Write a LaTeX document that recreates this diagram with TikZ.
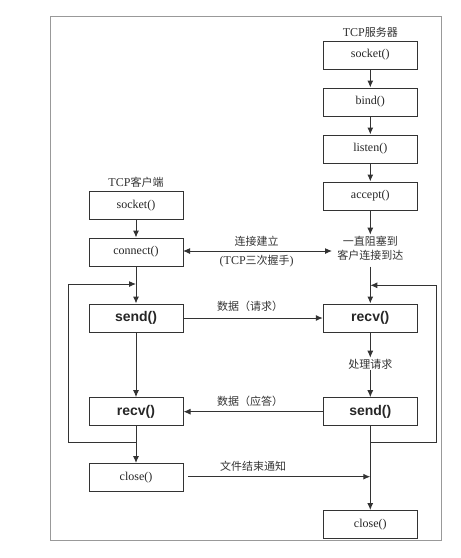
\documentclass[tikz,border=0pt]{standalone}
\usepackage{fontspec}
\setmainfont{Liberation Serif}
\newfontfamily\cjk{Noto Sans CJK SC}
\newfontfamily\arialf{Liberation Sans}
\usetikzlibrary{arrows.meta}
\begin{document}
\begin{tikzpicture}[x=1pt,y=-1pt,
  box/.style={draw=black!80,line width=1pt,minimum width=94pt,minimum height=28pt,inner sep=0pt,font=\fontsize{12}{13}\selectfont,text=black!85},
  bbox/.style={box,font=\arialf\bfseries\fontsize{14}{15}\selectfont},
  lbl/.style={inner sep=1pt,font=\cjk\fontsize{11}{14}\selectfont,text=black!80},
  arr/.style={draw=black!80,line width=1pt,-{Latex[length=7pt,width=6pt]}},
  darr/.style={draw=black!80,line width=1pt,{Latex[length=7pt,width=6pt]}-{Latex[length=7pt,width=6pt]}},
  ln/.style={draw=black!80,line width=1pt}]
\useasboundingbox (0,0) rectangle (461,558);
\draw[black!40,line width=0.8pt] (50,16) rectangle (441.7,540);
% server
\node[lbl] (stitle) at (370.3,32) {\fontspec{Liberation Serif}\fontsize{12}{13}\selectfont TCP\cjk\fontsize{11}{13}\selectfont 服务器};
\node[box] (ssock) at (370.3,55) {socket()};
\node[box] (sbind) at (370.3,102) {bind()};
\node[box] (slist) at (370.3,149) {listen()};
\node[box] (sacc) at (370.3,196) {accept()};
\node[lbl,align=center] (swait) at (370.3,248) {一直阻塞到\\客户连接到达};
\node[bbox] (srecv) at (370.3,318) {recv()};
\node[lbl] (sproc) at (370.3,364) {处理请求};
\node[bbox] (ssend) at (370.3,411.7) {send()};
\node[box] (sclose) at (370.3,524.7) {close()};
% client
\node[lbl] (ctitle) at (136,182) {\fontspec{Liberation Serif}\fontsize{12}{13}\selectfont TCP\cjk\fontsize{11}{13}\selectfont 客户端};
\node[box] (csock) at (136,205.5) {socket()};
\node[box] (cconn) at (136,252) {connect()};
\node[bbox] (csend) at (136,318) {send()};
\node[bbox] (crecv) at (136,411.7) {recv()};
\node[box] (cclose) at (136,477.5) {close()};
% coordinates
\coordinate (cj1) at (136,284);
\coordinate (cj2) at (136,442.7);
\coordinate (cl) at (68.3,442.7);
\coordinate (sj1) at (370.3,285.3);
\coordinate (sj2) at (370.3,442.7);
\coordinate (sr) at (436,442.7);
\coordinate (sx) at (370.3,476.7);
\coordinate (hl) at (183,251);
\coordinate (hr) at (332,251);
\coordinate (ws) at (370.3,266.7);
\coordinate (cs) at (188.3,476.7);
% server vertical
\draw[arr] (ssock) -- (sbind);
\draw[arr] (sbind) -- (slist);
\draw[arr] (slist) -- (sacc);
\draw[arr] (sacc) -- (swait);
\draw[arr] (ws) -- (srecv);
\draw[arr] (srecv) -- (sproc);
\draw[arr] (sproc) -- (ssend);
\draw[arr,line width=1.3pt] (ssend) -- (sclose);
\draw[arr] (sj2) -- (sr) |- (sj1);
% client vertical
\draw[arr] (csock) -- (cconn);
\draw[arr] (cconn) -- (csend);
\draw[arr] (csend) -- (crecv);
\draw[arr] (crecv) -- (cclose);
\draw[arr] (cj2) -- (cl) |- (cj1);
% horizontal
\draw[darr] (hl) -- (hr);
\node[lbl] (l1) at (256.7,241) {连接建立};
\node[lbl] (l2) at (256.7,261.5) {\fontspec{Liberation Serif}\fontsize{12}{13}\selectfont(TCP\cjk\fontsize{11}{13}\selectfont 三次握手\fontspec{Liberation Serif}\fontsize{12}{13}\selectfont)};
\draw[arr] (csend) -- (srecv);
\node[lbl] (l3) at (250,306.7) {数据（请求）};
\draw[arr] (ssend) -- (crecv);
\node[lbl] (l4) at (250,401) {数据（应答）};
\draw[arr] (cs) -- (sx);
\node[lbl] (l5) at (253,466.7) {文件结束通知};
\end{tikzpicture}
\end{document}
